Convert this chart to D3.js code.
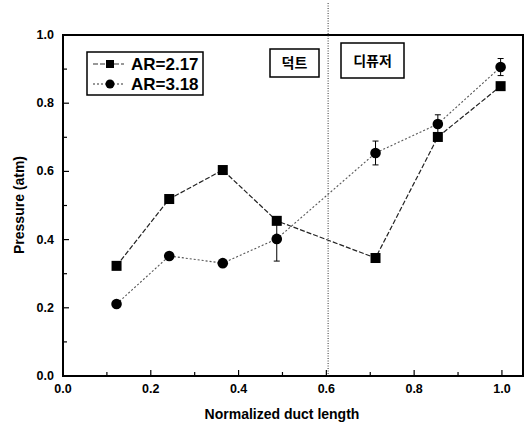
<!DOCTYPE html>
<html>
<head>
<meta charset="utf-8">
<script src="https://cdn.jsdelivr.net/npm/d3@7"></script>
<style>
  body { margin: 0; background: #fff; }
  text { font-family: "Liberation Sans", Arial, sans-serif; font-weight: bold; }
</style>
</head>
<body>
<svg id="chart" width="530" height="424"></svg>
<script>
// duct length positions (normalized)
const xs = [0.122, 0.242, 0.364, 0.487, 0.712, 0.854, 0.997]
const ar217 = [0.323, 0.519, 0.604, 0.455, 0.346, 0.701, 0.850]
const ar318 = [0.211, 0.352, 0.331, 0.402, 0.654, 0.739, 0.906]
const ar318err = [0, 0, 0, 0.065, 0.035, 0.027, 0.025]
const xTicks = [0, 0.2, 0.4, 0.6, 0.8, 1.0]
const yTicks = [0, 0.2, 0.4, 0.6, 0.8, 1.0]
const ductEnd = 0.604

let svg = d3.select('svg#chart')
let x = d3.scaleLinear().domain([0, 1.048]).range([63, 523])
let y = d3.scaleLinear().domain([0, 1]).range([376, 35])

// inward ticks, major + minor
let g = svg.append('g')
let minorX = d3.range(0, 1.05, 0.1)
let minorY = d3.range(0, 1.01, 0.1)

g.selectAll('line.mx').data(minorX).enter().append('line')
  .attr('x1', d => x(d)).attr('x2', d => x(d))
  .attr('y1', y(0)).attr('y2', (d, i) => y(0) - (i % 2 == 0 ? 6 : 4))
  .attr('stroke', '#000').attr('stroke-width', 1.2)
g.selectAll('line.my').data(minorY).enter().append('line')
  .attr('y1', d => y(d)).attr('y2', d => y(d))
  .attr('x1', x(0)).attr('x2', (d, i) => x(0) + (i % 2 == 0 ? 6 : 4))
  .attr('stroke', '#000').attr('stroke-width', 1.2)

// frame
svg.append('rect')
  .attr('x', x(0)).attr('y', y(1))
  .attr('width', x(1.048) - x(0)).attr('height', y(0) - y(1))
  .attr('fill', 'none').attr('stroke', '#000').attr('stroke-width', 2)

// tick labels
svg.selectAll('text.xt').data(xTicks).enter().append('text')
  .attr('x', d => x(d)).attr('y', 393)
  .attr('text-anchor', 'middle').attr('font-size', 12.5)
  .text(d => d.toFixed(1))
svg.selectAll('text.yt').data(yTicks).enter().append('text')
  .attr('x', 54).attr('y', d => y(d) + 4)
  .attr('text-anchor', 'end').attr('font-size', 12.5)
  .text(d => d.toFixed(1))

// axis titles
svg.append('text').attr('x', 282).attr('y', 419)
  .attr('text-anchor', 'middle').attr('font-size', 14)
  .text('Normalized duct length')
svg.append('text')
  .attr('transform', 'translate(24,205) rotate(-90)')
  .attr('text-anchor', 'middle').attr('font-size', 14)
  .text('Pressure (atm)')

// duct / diffuser boundary
svg.append('line')
  .attr('x1', x(ductEnd)).attr('x2', x(ductEnd))
  .attr('y1', 3).attr('y2', y(0))
  .attr('stroke', '#333').attr('stroke-width', 1).attr('stroke-dasharray', '1,1.5')

// region labels
let regions = [
  { t: '덕트', x0: 270, x1: 319, y0: 49, y1: 77 },
  { t: '디퓨저', x0: 341, x1: 404, y0: 43, y1: 78 }
]
regions.forEach(r => {
  svg.append('rect').attr('x', r.x0).attr('y', r.y0)
    .attr('width', r.x1 - r.x0).attr('height', r.y1 - r.y0)
    .attr('fill', '#fff').attr('stroke', '#000').attr('stroke-width', 1.5)
  svg.append('text').attr('x', (r.x0 + r.x1) / 2).attr('y', (r.y0 + r.y1) / 2 + 5)
    .attr('text-anchor', 'middle').attr('font-size', 14)
    .style('font-family', '"Noto Sans CJK KR", sans-serif')
    .text(r.t)
})

let line = d3.line().x(d => x(d[0])).y(d => y(d[1]))
let s1 = xs.map((v, i) => [v, ar217[i]])
let s2 = xs.map((v, i) => [v, ar318[i]])

// AR=3.18 dotted
svg.append('path').datum(s2).attr('d', line)
  .attr('fill', 'none').attr('stroke', '#555').attr('stroke-width', 1.1)
  .attr('stroke-dasharray', '2,2')
// AR=2.17 dashed
svg.append('path').datum(s1).attr('d', line)
  .attr('fill', 'none').attr('stroke', '#222').attr('stroke-width', 1.2)
  .attr('stroke-dasharray', '5,2')

// error bars
let eb = svg.append('g').attr('stroke', '#000').attr('stroke-width', 1)
s2.forEach((d, i) => {
  let e = ar318err[i]
  if (!e) return
  eb.append('line').attr('x1', x(d[0])).attr('x2', x(d[0]))
    .attr('y1', y(d[1] - e)).attr('y2', y(d[1] + e))
  ;[d[1] - e, d[1] + e].forEach(v => {
    eb.append('line').attr('x1', x(d[0]) - 3).attr('x2', x(d[0]) + 3)
      .attr('y1', y(v)).attr('y2', y(v))
  })
})

svg.selectAll('rect.sq').data(s1).enter().append('rect')
  .attr('x', d => x(d[0]) - 5).attr('y', d => y(d[1]) - 5)
  .attr('width', 10).attr('height', 10).attr('fill', '#000')
svg.selectAll('circle.ci').data(s2).enter().append('circle')
  .attr('cx', d => x(d[0])).attr('cy', d => y(d[1]))
  .attr('r', 5.3).attr('fill', '#000')

// legend
let lg = svg.append('g')
lg.append('rect').attr('x', 87).attr('y', 52).attr('width', 116).attr('height', 43)
  .attr('fill', '#fff').attr('stroke', '#000').attr('stroke-width', 1.5)
let legendItems = [
  { label: 'AR=2.17', dash: '5,2', shape: 'sq', yy: 64 },
  { label: 'AR=3.18', dash: '2,2', shape: 'ci', yy: 84 }
]
legendItems.forEach(it => {
  lg.append('line').attr('x1', 93).attr('x2', 124).attr('y1', it.yy).attr('y2', it.yy)
    .attr('stroke', '#333').attr('stroke-width', 1.1).attr('stroke-dasharray', it.dash)
  if (it.shape == 'sq')
    lg.append('rect').attr('x', 106).attr('y', it.yy - 4).attr('width', 8).attr('height', 8).attr('fill', '#000')
  else
    lg.append('circle').attr('cx', 110).attr('cy', it.yy).attr('r', 4.5).attr('fill', '#000')
  lg.append('text').attr('x', 131).attr('y', it.yy + 6)
    .attr('font-size', 17).text(it.label)
})
</script>
</body>
</html>
